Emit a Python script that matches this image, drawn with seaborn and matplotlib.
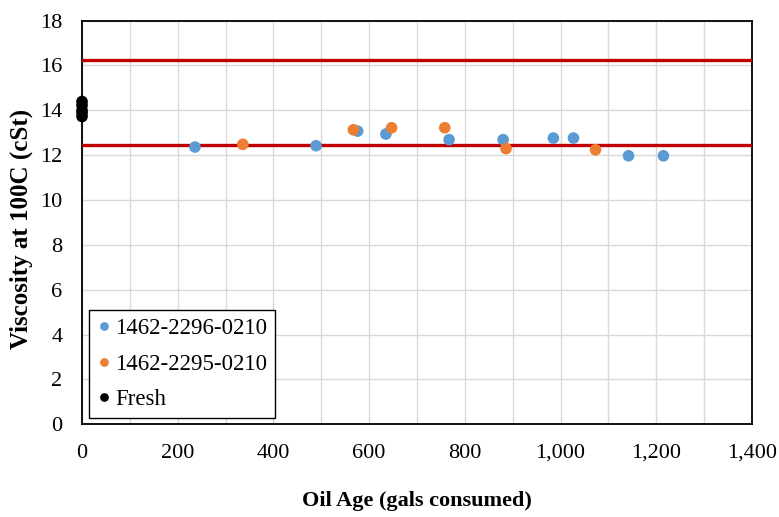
import pandas as pd
import matplotlib.pyplot as plt
from matplotlib.ticker import MultipleLocator, StrMethodFormatter
import seaborn as sns

# значения
age_2296 = [236, 489, 576, 635, 767, 880, 985, 1027, 1142, 1215]
visc_2296 = [12.36, 12.42, 13.07, 12.94, 12.69, 12.69, 12.76, 12.76, 11.97, 11.97]
age_2295 = [336, 567, 647, 758, 886, 1073]
visc_2295 = [12.48, 13.13, 13.22, 13.22, 12.29, 12.24]
age_fresh = [0, 0, 0, 0, 0]
visc_fresh = [14.39, 14.22, 14.0, 13.88, 13.72]
limits = [16.25, 12.45]

names = ['1462-2296-0210', '1462-2295-0210', 'Fresh']
colors = ['#5B9BD5', '#ED7D31', '#000000']

df = pd.concat([
    pd.DataFrame({'age': age_2296, 'visc': visc_2296, 'unit': names[0]}),
    pd.DataFrame({'age': age_2295, 'visc': visc_2295, 'unit': names[1]}),
    pd.DataFrame({'age': age_fresh, 'visc': visc_fresh, 'unit': names[2]}),
])

sns.set_style('white')
plt.rcParams['font.family'] = ['Liberation Serif', 'DejaVu Serif']
plt.rcParams['text.color'] = 'black'
plt.rcParams['axes.labelcolor'] = 'black'

fig = plt.figure(figsize=(7.79, 5.17), dpi=100)
ax = fig.add_axes([0.1053, 0.1793, 0.86, 0.781])

for y in limits:
    ax.axhline(y, color='#C00000', lw=2.4, zorder=3)

sns.scatterplot(data=df, x='age', y='visc', hue='unit', hue_order=names,
                palette=colors, s=70, edgecolor='none', ax=ax, zorder=4,
                clip_on=False)

ax.set_xlim(0, 1400)
ax.set_ylim(0, 18)
ax.xaxis.set_major_locator(MultipleLocator(200))
ax.xaxis.set_minor_locator(MultipleLocator(100))
ax.yaxis.set_major_locator(MultipleLocator(2))
ax.xaxis.set_major_formatter(StrMethodFormatter('{x:,.0f}'))
ax.grid(True, which='both', color='#D9D9D9', lw=1)
ax.set_axisbelow(True)
ax.tick_params(which='both', length=0, labelsize=16, colors='black')
ax.tick_params(axis='x', pad=14)
ax.tick_params(axis='y', pad=14)
for s in ax.spines.values():
    s.set_color('black')
    s.set_linewidth(1.3)

ax.set_xlabel('Oil Age (gals consumed)', fontsize=16, fontweight='bold', labelpad=20)
ax.set_ylabel('Viscosity at 100C (cSt)', fontsize=18, fontweight='bold', va='center')
ax.yaxis.set_label_coords(-0.091, 0.484)

leg = ax.legend(loc='lower left', bbox_to_anchor=(0.0104, 0.0156), borderaxespad=0,
                fontsize=16.5, frameon=True, fancybox=False, edgecolor='black',
                framealpha=1, handlelength=0.6, handletextpad=0.2, markerscale=0.75,
                borderpad=0.35, labelspacing=0.62)
leg.get_frame().set_linewidth(1)

plt.savefig('out.png', dpi=100)
